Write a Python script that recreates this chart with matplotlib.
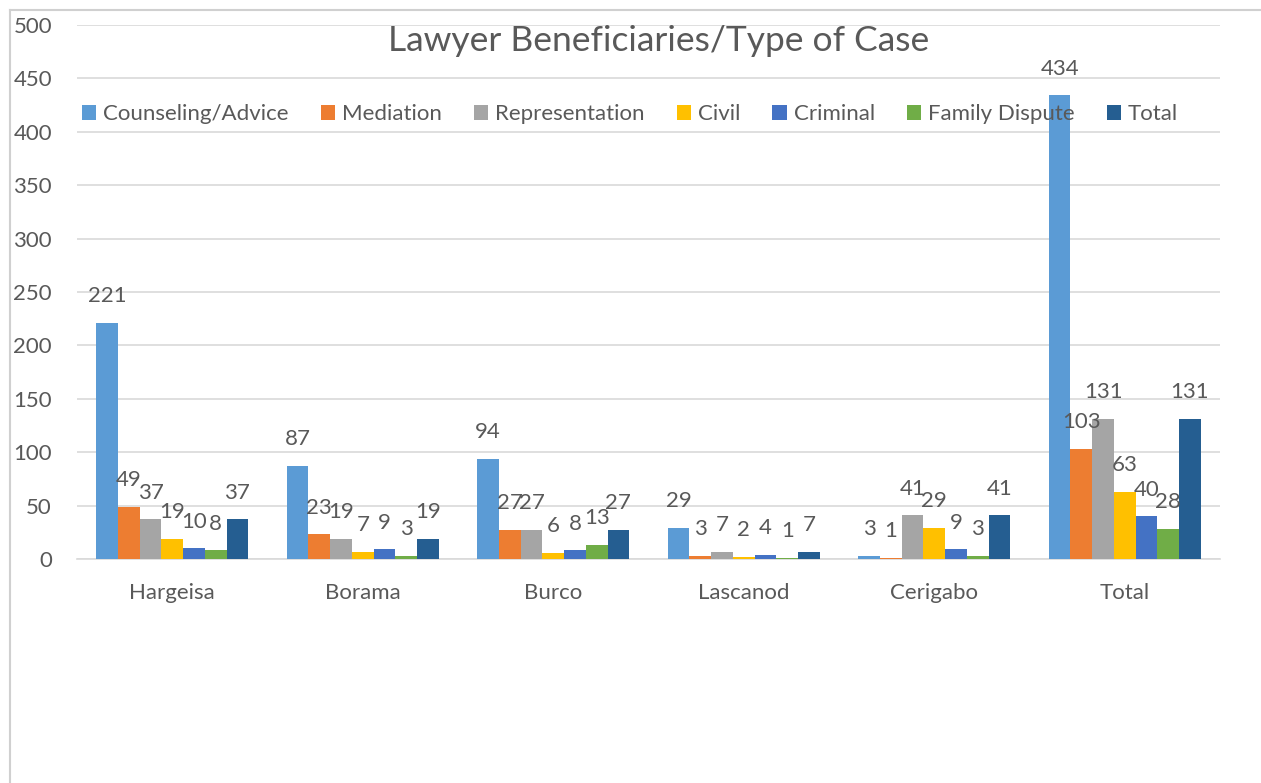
import numpy as np
import matplotlib.pyplot as plt
from matplotlib.lines import Line2D

plt.rcParams['font.family'] = ['Lato', 'DejaVu Sans']

# Data
cities = ['Hargeisa', 'Borama', 'Burco', 'Lascanod', 'Cerigabo', 'Total']
series = ['Counseling/Advice', 'Mediation', 'Representation', 'Civil',
          'Criminal', 'Family Dispute', 'Total']
counseling = [221, 87, 94, 29, 3, 434]
mediation = [49, 23, 27, 3, 1, 103]
representation = [37, 19, 27, 7, 41, 131]
civil = [19, 7, 6, 2, 29, 63]
criminal = [10, 9, 8, 4, 9, 40]
family = [8, 3, 13, 1, 3, 28]
total = [37, 19, 27, 7, 41, 131]
values = [counseling, mediation, representation, civil, criminal, family, total]

colors = ['#5B9BD5', '#ED7D31', '#A5A5A5', '#FFC000', '#4472C4', '#70AD47', '#255E91']
txt = '#595959'
grid = '#D9D9D9'
fs = 16

fig = plt.figure(figsize=(12.61, 7.83), dpi=100)
ax = fig.add_axes([77/1261, 224/783, 1143/1261, 534/783])

x = np.arange(len(cities))
w = 0.114
for i, (name, vals) in enumerate(zip(series, values)):
    pos = x + (i - 3) * w
    bars = ax.bar(pos, vals, w, color=colors[i], label=name, zorder=3)
    for b, v in zip(bars, vals):
        ax.annotate(str(v), (b.get_x() + b.get_width() / 2, v),
                    xytext=(0, 12), textcoords='offset points',
                    ha='center', va='bottom', fontsize=fs, color=txt, zorder=4)

ax.set_xlim(-0.5, len(cities) - 0.5)
ax.set_ylim(0, 500)
ax.set_yticks(np.arange(0, 501, 50))
ax.set_xticks(x)
ax.set_xticklabels(cities)
ax.yaxis.grid(True, color=grid, linewidth=1.2, zorder=0)
ax.tick_params(axis='both', length=0, labelsize=fs, labelcolor=txt)
ax.tick_params(axis='y', pad=18)
ax.tick_params(axis='x', pad=17)
for s in ['top', 'right', 'left']:
    ax.spines[s].set_visible(False)
ax.spines['bottom'].set_color(grid)
ax.spines['bottom'].set_linewidth(1.2)

fig.text(659/1261, 1 - 41/783, 'Lawyer Beneficiaries/Type of Case',
         ha='center', va='center', fontsize=25.5, color=txt)

leg = fig.legend(loc='center', bbox_to_anchor=(630/1261, 1 - 114/783), ncol=7,
                 frameon=False, fontsize=fs, handlelength=0.65, handleheight=0.65,
                 handletextpad=0.3, columnspacing=1.45, labelcolor=txt)

# chart area border (cropped)
fig.add_artist(Line2D([10/1261, 10/1261], [0, 1 - 10/783], color='#D0D0D0', lw=1.5))
fig.add_artist(Line2D([10/1261, 1], [1 - 10/783, 1 - 10/783], color='#D0D0D0', lw=1.5))

fig.savefig('out.png', dpi=100)
